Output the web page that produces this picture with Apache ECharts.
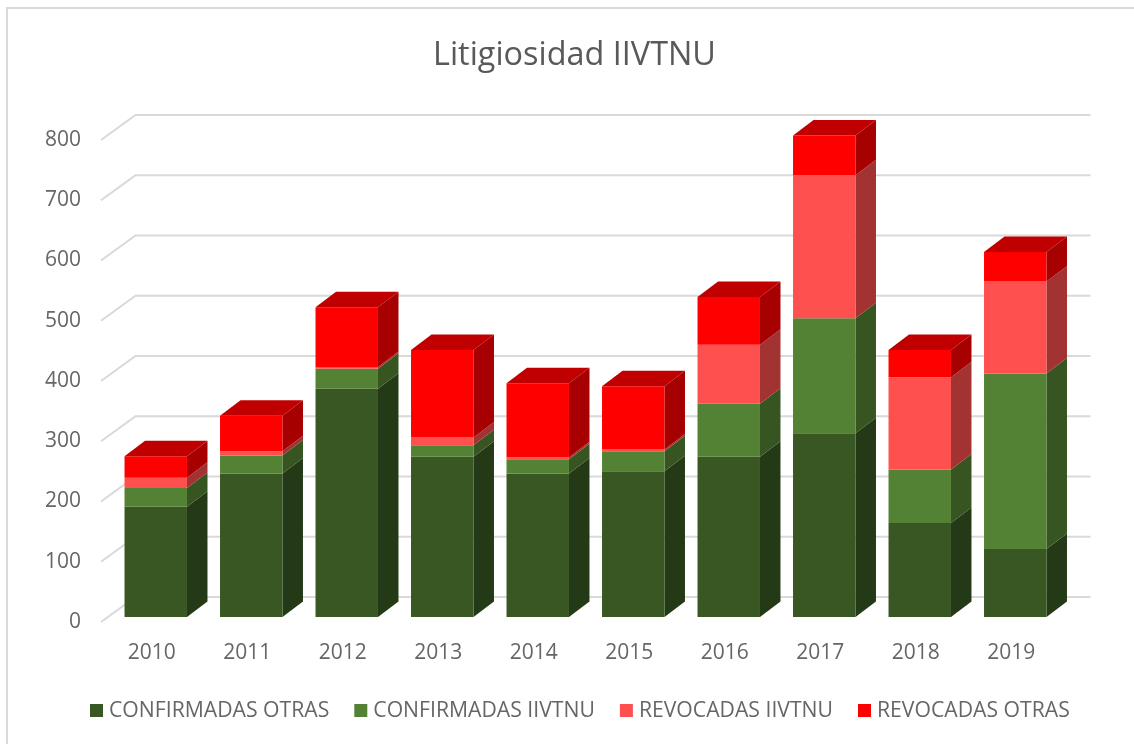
<!DOCTYPE html>
<html><head><meta charset="utf-8">
<style>html,body{margin:0;padding:0;background:#fff}#c{width:1134px;height:744px}</style>
<script src="https://cdn.jsdelivr.net/npm/echarts@6/dist/echarts.min.js"></script>
</head><body><div id="c"></div>
<script>
const years = ['2010','2011','2012','2013','2014','2015','2016','2017','2018','2019'];
const confirmadasOtras  = [183,238,379,266,238,242,266,305,156,113];
const confirmadasIivtnu = [31,30,33,19,24,33,88,191,89,291];
const revocadasIivtnu   = [17,7,3,13,3,3,98,237,153,153];
const revocadasOtras    = [36,59,99,145,123,105,79,66,45,49];
const seriesNames = ['CONFIRMADAS OTRAS','CONFIRMADAS IIVTNU','REVOCADAS IIVTNU','REVOCADAS OTRAS'];
const seriesValues = [confirmadasOtras, confirmadasIivtnu, revocadasIivtnu, revocadasOtras];
const frontColors = ['#385723','#548235','#FF5050','#FF0000'];
const sideColors  = ['#243A16','#365520','#A33232','#A60000'];
const topColor = '#C00000';
const yTicks = [0,100,200,300,400,500,600,700,800];
const FONT = '"Open Sans"';
const TEXT = '#666666';
const DX = 20.5, DY = -15.5;   // bar depth
const SX = 7, SY = -5;         // bar offset inside floor depth
const WX = 34.5, WY = -25;     // wall depth

function base(i, upto){ let s = 0; for (let k = 0; k < upto; k++) s += seriesValues[k][i]; return s; }

const barSeries = seriesNames.map((name, si) => ({
  name, type: 'custom', z: 3 + si,
  itemStyle: { color: frontColors[si] },
  data: years.map((y, i) => [i, base(i, si), base(i, si) + seriesValues[si][i]]),
  encode: { x: 0, y: [1, 2] },
  renderItem(params, api) {
    const i = api.value(0);
    const lo = api.coord([i, api.value(1)]);
    const hi = api.coord([i, api.value(2)]);
    const w = api.size([1, 0])[0] * 0.654;
    const x0 = lo[0] - w / 2 + SX, x1 = x0 + w;
    const yb = lo[1] + SY, yt = hi[1] + SY;
    const ch = [
      { type: 'polygon', shape: { points: [[x1,yb],[x1+DX,yb+DY],[x1+DX,yt+DY],[x1,yt]] }, style: { fill: sideColors[si] } },
      { type: 'rect', shape: { x: x0, y: yt, width: w, height: yb - yt }, style: { fill: frontColors[si] } }
    ];
    if (si === seriesNames.length - 1) {
      ch.push({ type: 'polygon', shape: { points: [[x0,yt],[x1,yt],[x1+DX,yt+DY],[x0+DX,yt+DY]] }, style: { fill: topColor } });
    }
    return { type: 'group', children: ch };
  }
}));

const wallSeries = {
  type: 'custom', silent: true, z: 1,
  legendHoverLink: false,
  data: yTicks.map(v => [v]),
  encode: { y: 0 },
  renderItem(params, api) {
    const p = api.coord([0, api.value(0)]);
    const cs = params.coordSys;
    return { type: 'polyline', shape: { points: [[cs.x, p[1]], [cs.x + WX, p[1] + WY], [cs.x + cs.width + WX, p[1] + WY]] },
      style: { stroke: '#d9d9d9', lineWidth: 2, fill: null } };
  }
};

const chart = echarts.init(document.getElementById('c'), null, { renderer: 'canvas' });
chart.setOption({
  animation: false,
  backgroundColor: '#fff',
  title: { text: 'Litigiosidad IIVTNU', left: 569.5, top: 35, textAlign: 'center',
    textStyle: { fontFamily: FONT, fontSize: 32.4, fontWeight: 'normal', color: '#595959' } },
  legend: {
    data: seriesNames, left: 85, top: 695, itemWidth: 13, itemHeight: 13, itemGap: 25, icon: 'rect',
    textStyle: { fontFamily: FONT, fontSize: 21.2, color: TEXT, padding: [0,0,0,1] }
  },
  grid: { left: 101, right: 78, top: 140, bottom: 122 },
  xAxis: { type: 'category', data: years,
    axisLine: { show: false }, axisTick: { show: false },
    axisLabel: { fontFamily: FONT, fontSize: 21, color: TEXT, margin: 21, padding: [0,0,0,6] } },
  yAxis: { type: 'value', min: 0, max: 800, interval: 100,
    axisLine: { show: false }, axisTick: { show: false }, splitLine: { show: false },
    axisLabel: { fontFamily: FONT, fontSize: 21, color: TEXT, margin: 20, padding: [8,0,0,0] } },
  series: [wallSeries].concat(barSeries),
  graphic: [
    { type: 'polyline', silent: true, shape: { points: [[7,744],[7,8],[1134,8]] }, style: { stroke: '#d9d9d9', lineWidth: 2, fill: null } }
  ]
});
</script></body></html>
